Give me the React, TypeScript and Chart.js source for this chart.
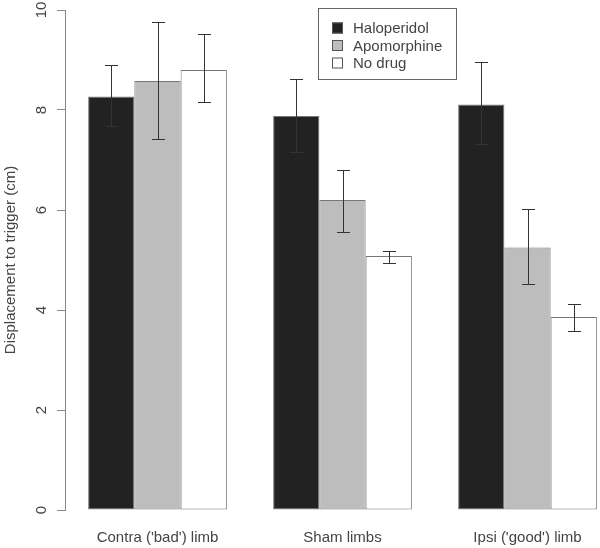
import React, { useEffect, useRef } from "react";
import { Chart, registerables } from "chart.js";

Chart.register(...registerables);

const categories = ["Contra ('bad') limb", "Sham limbs", "Ipsi ('good') limb"];
const seriesNames = ["Haloperidol", "Apomorphine", "No drug"];

const haloperidol = [8.27, 7.88, 8.11];
const haloperidolLow = [7.67, 7.16, 7.32];
const haloperidolHigh = [8.9, 8.62, 8.96];

const apomorphine = [8.58, 6.2, 5.25];
const apomorphineLow = [7.42, 5.56, 4.52];
const apomorphineHigh = [9.76, 6.8, 6.02];

const noDrug = [8.8, 5.08, 3.86];
const noDrugLow = [8.16, 4.94, 3.58];
const noDrugHigh = [9.52, 5.18, 4.12];

const yTicks = [0, 2, 4, 6, 8, 10];
const yTitle = "Displacement to trigger (cm)";

const FONT = '"Liberation Sans", Arial, sans-serif';
const TEXT = "#444";

const errorLows = [haloperidolLow, apomorphineLow, noDrugLow];
const errorHighs = [haloperidolHigh, apomorphineHigh, noDrugHigh];

const customPlugin = {
  id: "rstyle",
  afterDatasetsDraw(chart: any) {
    const ctx = chart.ctx;
    const y = chart.scales.y;
    ctx.save();
    ctx.strokeStyle = "#333";
    ctx.lineWidth = 1;
    chart.data.datasets.forEach((ds: any, di: number) => {
      const meta = chart.getDatasetMeta(di);
      meta.data.forEach((el: any, i: number) => {
        const x = Math.round(el.x) + 0.5;
        const yl = Math.round(y.getPixelForValue(errorLows[di][i])) + 0.5;
        const yh = Math.round(y.getPixelForValue(errorHighs[di][i])) + 0.5;
        const cap = 6.5;
        ctx.beginPath();
        ctx.moveTo(x, yl);
        ctx.lineTo(x, yh);
        ctx.moveTo(x - cap, yl);
        ctx.lineTo(x + cap, yl);
        ctx.moveTo(x - cap, yh);
        ctx.lineTo(x + cap, yh);
        ctx.stroke();
      });
    });
    ctx.restore();
  },
  afterDraw(chart: any) {
    const ctx = chart.ctx;
    const y = chart.scales.y;
    ctx.save();
    ctx.fillStyle = TEXT;
    ctx.font = `15px ${FONT}`;
    ctx.textAlign = "center";
    ctx.textBaseline = "middle";
    // y tick labels, rotated
    y.ticks.forEach((t: any) => {
      const py = y.getPixelForValue(t.value);
      ctx.save();
      ctx.translate(42, py);
      ctx.rotate(-Math.PI / 2);
      ctx.fillText(String(t.value), 0, 0);
      ctx.restore();
    });
    // y title
    const cy = (chart.chartArea.top + chart.chartArea.bottom) / 2;
    ctx.save();
    ctx.translate(11, cy);
    ctx.rotate(-Math.PI / 2);
    ctx.fillText(yTitle, 0, 0);
    ctx.restore();

    // legend
    ctx.strokeStyle = "#666";
    ctx.lineWidth = 1;
    ctx.strokeRect(318.5, 8.5, 138, 71);
    ctx.textAlign = "left";
    chart.data.datasets.forEach((ds: any, di: number) => {
      const ry = 28 + di * 17.5;
      ctx.fillStyle = ds.backgroundColor;
      ctx.fillRect(332, ry - 5.5, 11, 11);
      ctx.strokeStyle = "#555";
      ctx.strokeRect(332.5, ry - 5, 10, 10);
      ctx.fillStyle = TEXT;
      ctx.fillText(ds.label, 353, ry + 1);
    });
    ctx.restore();
  },
};

export default function App() {
  const ref = useRef<HTMLCanvasElement | null>(null);
  useEffect(() => {
    if (!ref.current) return;
    const fills = ["#222222", "#bdbdbd", "#ffffff"];
    const values = [haloperidol, apomorphine, noDrug];
    const chart = new Chart(ref.current, {
      type: "bar",
      data: {
        labels: categories,
        datasets: seriesNames.map((name, i) => ({
          label: name,
          data: values[i],
          backgroundColor: fills[i],
          borderColor: "#777",
          borderWidth: 1,
          borderSkipped: false,
          barPercentage: 1,
          categoryPercentage: 0.75,
        })),
      },
      options: {
        responsive: false,
        animation: false,
        devicePixelRatio: 1,
        layout: { padding: { top: 10, left: 0, right: 0, bottom: 0 } },
        plugins: { legend: { display: false }, tooltip: { enabled: false } },
        scales: {
          x: {
            type: "category",
            offset: true,
            grid: { display: false, drawTicks: false },
            border: { display: false },
            ticks: {
              color: TEXT,
              font: { family: FONT, size: 15 },
              padding: 19,
              maxRotation: 0,
              minRotation: 0,
            },
            afterFit(s: any) {
              s.height = 38;
            },
          },
          y: {
            min: 0,
            max: 10,
            ticks: {
              display: false,
              stepSize: 2,
              callback: (v: any) => (yTicks.includes(v) ? String(v) : ""),
            },
            grid: {
              drawOnChartArea: false,
              drawTicks: true,
              tickLength: 8,
              color: "#888",
            },
            border: { display: true, color: "#888" },
            afterFit(s: any) {
              s.width = 65;
            },
          },
        },
      },
      plugins: [customPlugin],
    });
    return () => chart.destroy();
  }, []);
  return (
    <div
      style={{
        position: "absolute",
        left: 0,
        top: 0,
        width: 600,
        height: 548,
        overflow: "hidden",
        background: "#fff",
      }}
    >
      <canvas ref={ref} width={620} height={548} style={{ display: "block", width: 620, height: 548 }} />
    </div>
  );
}
